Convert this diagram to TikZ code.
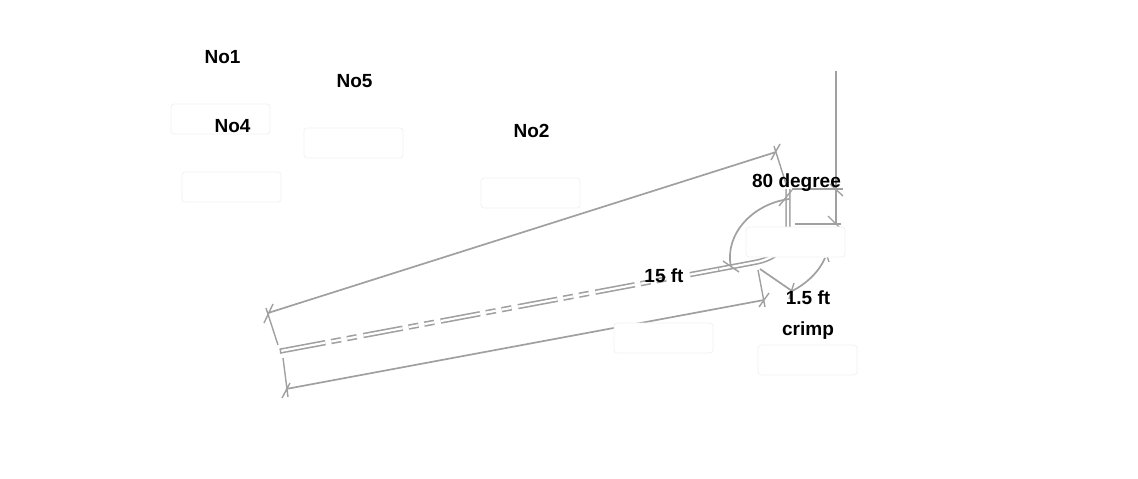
\documentclass[tikz,border=0pt]{standalone}
\usepackage{fontspec}
\setmainfont{Liberation Sans}
\tikzset{
  line/.style={draw=linegray,line width=1.7pt},
  thin tick/.style={draw=linegray,line width=1.4pt},
  tube/.style={draw=linegray,line width=1.6pt,double=white,double distance=2.2pt},
  box/.style={draw=boxgray,fill=white,line width=0.8pt,rounded corners=3pt,minimum width=99pt,minimum height=30pt,inner sep=0pt},
  lab/.style={font=\fontsize{19}{21}\selectfont\bfseries,text=black,inner sep=0pt,anchor=base}
}
\definecolor{linegray}{HTML}{A0A0A0}
\definecolor{boxgray}{HTML}{F1F1F1}
\begin{document}
\begin{tikzpicture}[x=1pt,y=-1pt]
\useasboundingbox (0,0) rectangle (1138,479);
% upper dimension
\coordinate (ua) at (268,313);
\coordinate (ub) at (776,152);
\draw[line] (ua) -- (ub);
\draw[thin tick] (264,323) -- (273,304) (771,160) -- (780,144);
\draw[thin tick] (266,308) -- (278,345) (774,146) -- (787,187);
% lower dimension
\coordinate (la) at (286,389);
\coordinate (lb) at (764,300);
\draw[line] (la) -- (lb);
\draw[thin tick] (283,358) -- (288,397) (282,398) -- (290,383) (758,270) -- (765,307) (759,307) -- (769,293);
% tube
\coordinate (ta) at (286,350);
\coordinate (tb) at (668,278.6);
\coordinate (tc) at (690,274.6);
\coordinate (td) at (756,262.2);
\coordinate (te) at (788,228);
\coordinate (tf) at (788,189);
\draw[tube,dash pattern=on 40pt off 6pt on 10pt off 6pt on 10pt off 6.7pt] (ta) -- (tb);
\draw[tube] (280,351.1) -- (ta);
\draw[linegray,line width=1.4pt] (280.2,348.6) -- (280.8,353.6);
\draw[tube] (tc) -- (td) .. controls (772,259) and (788,250) .. (te) -- (tf);
\draw[linegray,line width=0.8pt] (718.5,267) -- (719,271);
% angle arc
\coordinate (aa) at (789,199);
\coordinate (ab) at (731,267);
\draw[line] (aa) .. controls (752,204) and (724,235) .. (ab);
\draw[thin tick] (779,206) -- (792,190) (723,261) -- (739,272);
% vertical reference and crimp dimension
\coordinate (va) at (836,71);
\coordinate (vb) at (836,225);
\draw[linegray,line width=1.3pt] (va) -- (vb);
\draw[line] (792,189) -- (843,189);
\draw[thin tick] (830,184) -- (843,196);
\draw[line] (795,224) -- (841,224);
\draw[thin tick] (828,216) -- (839,227);
\coordinate (ca) at (760,269);
\coordinate (cb) at (792,291);
\coordinate (cc) at (825,258);
\draw[line] (ca) -- (cb);
\draw[line] (cb) .. controls (806,284) and (819,272) .. (cc);
\draw[thin tick] (794,283) -- (789,299) (827,256) -- (829,262);
% boxes
\node[box] (b1) at (220.5,119) {};
\node[box] (b5) at (353.5,143) {};
\node[box] (b4) at (231.5,187) {};
\node[box] (b2) at (530.5,193) {};
\node[box] (b80) at (795.5,242) {};
\node[box] (b15) at (663.5,338) {};
\node[box] (bc) at (807.5,360) {};
% labels
\node[lab] (no1) at (222.5,63.5) {No1};
\node[lab] (no5) at (354.5,87.5) {No5};
\node[lab] (no4) at (232.5,132) {No4};
\node[lab] (no2) at (531.5,137.5) {No2};
\node[lab] (deg) at (796.5,187.5) {80 degree};
\node[lab] (ft15) at (664,282.5) {15 ft};
\node[lab] (ft1) at (808,304.5) {1.5 ft};
\node[lab] (cr) at (808,335) {crimp};
\end{tikzpicture}
\end{document}
